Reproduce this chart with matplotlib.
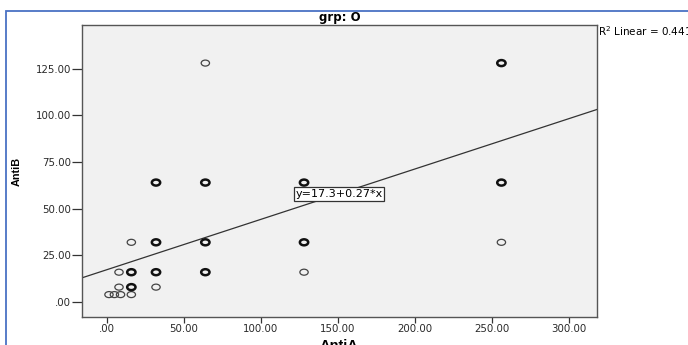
import numpy as np
import matplotlib
matplotlib.use('Agg')
from matplotlib import pyplot as plt
from matplotlib.patches import Rectangle
from matplotlib.path import Path

plt.rc('font', family=['DejaVu Sans'])

# data (AntiA, AntiB titres)
# heavy circles = several cases at the same point
heavy_x = [256, 32, 64, 128, 256, 32, 64, 128, 16, 32, 64, 16]
heavy_y = [128, 64, 64, 64, 64, 32, 32, 32, 16, 16, 16, 8]
light_x = [64, 16, 256, 8, 128, 8, 32, 1.5, 5, 9, 16]
light_y = [128, 32, 32, 16, 16, 8, 8, 4, 4, 4, 4]

intercept = 17.3
slope = 0.27
r2 = 0.441

x_ticks = [0, 50, 100, 150, 200, 250, 300]
y_ticks = [0, 25, 50, 75, 100, 125]

# slightly flattened circle like the SPSS marker
circ = Path.unit_circle()
oval = Path(circ.vertices * np.array([1.0, 0.72]), circ.codes)

fig = plt.figure(figsize=(6.88, 3.45), dpi=100)
ax = fig.add_axes([82/688, 28/345, 515/688, 292/345])
ax.set_facecolor('#f1f1f1')

# outer frame of the output viewer
fig.patches.append(Rectangle((5.5/688, -0.2), 1.2, 1.2 - 11/345,
                             transform=fig.transFigure, fill=False,
                             edgecolor='#4a72c4', linewidth=1.3))

ax.set_xlim(-16, 318)
ax.set_ylim(-8, 148.4)

xx = np.array([-16, 318])
ax.plot(xx, intercept + slope*xx, color='#333333', linewidth=0.9, zorder=2)

ax.scatter(light_x, light_y, s=36, marker=oval, facecolors='none',
           edgecolors='#444444', linewidths=0.9, zorder=3)
ax.scatter(heavy_x, heavy_y, s=36, marker=oval, facecolors='none',
           edgecolors='#111111', linewidths=1.8, zorder=3)

ax.set_xticks(x_ticks)
ax.set_yticks(y_ticks)
ax.set_xticklabels(['.00' if v == 0 else '%.2f' % v for v in x_ticks])
ax.set_yticklabels(['.00' if v == 0 else '%.2f' % v for v in y_ticks])
ax.tick_params(colors='#333333', labelsize=7.4, labelcolor='#2a2a2a')
ax.tick_params(axis='x', direction='out', length=4, width=0.9, pad=1)
ax.tick_params(axis='y', direction='out', length=7, width=0.9, pad=1)

for s in ax.spines.values():
    s.set_color('#555555')
    s.set_linewidth(1.0)

ax.set_xlabel('AntiA', fontsize=10.5, fontweight='bold',
              family='Liberation Sans')
ax.xaxis.set_label_coords(0.5, -22/292)
ax.xaxis.label.set_va('top')
ax.set_ylabel('AntiB', fontsize=7.8, fontweight='bold',
              family='Liberation Sans')
ax.yaxis.set_label_coords(-60/515, 0.5)
ax.set_title('grp: O', fontsize=8.5, fontweight='bold', pad=3)

ax.text(150.6, 57.9, 'y=17.3+0.27*x', fontsize=8, ha='center', va='center',
        bbox=dict(boxstyle='square,pad=0.15', facecolor='white',
                  edgecolor='#333333', linewidth=0.9), zorder=4)

fig.text(598/688, 1 - 31/345, r'R$^2$ Linear = %.3f' % r2, fontsize=7.5,
         ha='left', va='center')

fig.savefig('out.png', dpi=100)
